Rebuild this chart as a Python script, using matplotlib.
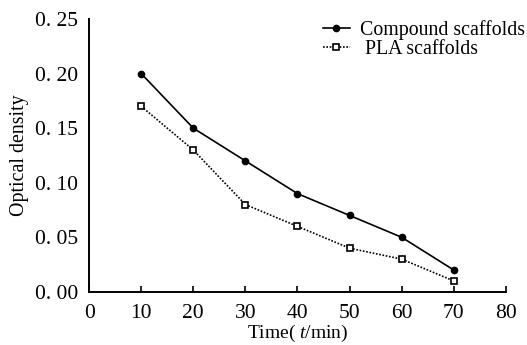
import matplotlib
matplotlib.use("Agg")
import matplotlib.pyplot as plt

time = [10, 20, 30, 40, 50, 60, 70]
compound = [0.20, 0.15, 0.12, 0.09, 0.07, 0.05, 0.02]
pla = [0.17, 0.13, 0.08, 0.06, 0.04, 0.03, 0.01]
xticks = [0, 10, 20, 30, 40, 50, 60, 70, 80]
yticks = [0.00, 0.05, 0.10, 0.15, 0.20, 0.25]
ytick_labels = ["0. 00", "0. 05", "0. 10", "0. 15", "0. 20", "0. 25"]

plt.rcParams['font.family'] = ['Liberation Serif', 'DejaVu Serif']
plt.rcParams['mathtext.fontset'] = 'custom'
plt.rcParams['mathtext.rm'] = 'Liberation Serif'
plt.rcParams['mathtext.it'] = 'Liberation Serif:italic'

fig = plt.figure(figsize=(5.27, 3.45), dpi=100)
ax = fig.add_axes([0.169, 0.154, 0.791, 0.791])

ax.plot(time, compound, color='black', lw=1.2, marker='o', ms=4.5,
        mfc='black', mec='black', label='Compound scaffolds')
ax.plot(time, pla, color='black', lw=1.2, ls=(0, (1, 1)), marker='s', ms=4,
        mfc='white', mec='black', mew=1.2, label=' PLA scaffolds')

ax.set_xlim(0, 80)
ax.set_ylim(0, 0.25)
ax.set_xticks(xticks)
ax.set_xticklabels([str(v) for v in xticks])
ax.set_yticks(yticks)
ax.set_yticklabels(ytick_labels)
ax.tick_params(axis='both', direction='in', length=4, width=1.2, labelsize=15.5, pad=9)
ax.tick_params(axis='y', length=0, pad=8)
for s in ['top', 'right']:
    ax.spines[s].set_visible(False)
for s in ['left', 'bottom']:
    ax.spines[s].set_linewidth(1.4)

ax.set_xlabel('Time( $\\it{t}$/min)', fontsize=14, labelpad=0)
ax.set_ylabel('Optical density', fontsize=14.3, labelpad=4)

leg = ax.legend(loc='upper left', bbox_to_anchor=(0.561, 0.995), frameon=False,
                fontsize=14.3, handlelength=1.36, handletextpad=0.5,
                labelspacing=0.0, borderaxespad=0, borderpad=0)

fig.savefig('out.png', dpi=100)
